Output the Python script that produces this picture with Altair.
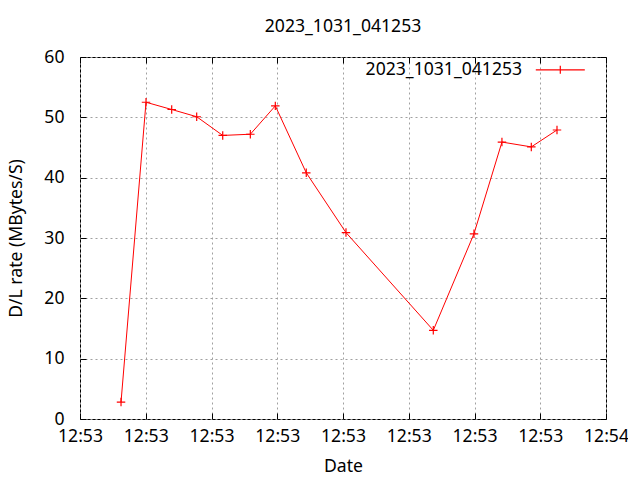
import json
import altair as alt
import pandas as pd

# seconds after 12:53:00
t_sec = [4.68, 7.53, 10.46, 13.31, 16.28, 19.43, 22.28, 25.81, 30.34, 40.3, 44.94, 48.13, 51.48, 54.41]
rate = [2.8, 52.5, 51.3, 50.1, 47.0, 47.2, 51.9, 40.8, 30.9, 14.7, 30.7, 45.9, 45.1, 47.9]
series_name = "2023_1031_041253"
x_tick_values = [0, 7.5, 15, 22.5, 30, 37.5, 45, 52.5, 60]
x_tick_labels = ["12:53", "12:53", "12:53", "12:53", "12:53", "12:53", "12:53", "12:53", "12:54"]
y_tick_values = [0, 10, 20, 30, 40, 50, 60]

df = pd.DataFrame({"t": t_sec, "rate": rate, "series": [series_name] * len(t_sec)})

FONT = "Noto Sans"
FS = 17.6
plus_path = "M-1,0L1,0M0,-1L0,1"
# legend sample drawn to the right of the label (gnuplot style)
legend_path = "M35.8,0L45.6,0M40.7,-0.8L40.7,0.8"

label_expr = json.dumps(x_tick_labels) + "[round(datum.value / 7.5)]"

xscale = alt.Scale(domain=[0, 60], nice=False, zero=False)
yscale = alt.Scale(domain=[0, 60], nice=False)

base = alt.Chart(df)

main = base.mark_line(
    color="#ff0000", strokeWidth=1,
    point=alt.OverlayMarkDef(shape=plus_path, filled=False, size=72, stroke="#ff0000", strokeWidth=1.2),
).encode(
    x=alt.X("t:Q", scale=xscale, title="Date",
            axis=alt.Axis(orient="bottom", values=x_tick_values, labelExpr=label_expr,
                          offset=-6, tickSize=6, tickColor="black", domain=False,
                          grid=True, gridColor="#a0a0a0", gridDash=[2, 3],
                          labelPadding=8, labelFont=FONT, labelFontSize=FS, labelColor="black",
                          labelOverlap=False, labelFlush=False,
                          titleFont=FONT, titleFontSize=FS, titleFontWeight="normal",
                          titleColor="black", titlePadding=13)),
    y=alt.Y("rate:Q", scale=yscale, title="D/L rate (MBytes/S)",
            axis=alt.Axis(orient="left", values=y_tick_values,
                          offset=-6, tickSize=6, tickColor="black", domain=False,
                          grid=True, gridColor="#a0a0a0", gridDash=[2, 3],
                          labelPadding=16, labelFont=FONT, labelFontSize=FS, labelColor="black",
                          titleFont=FONT, titleFontSize=FS, titleFontWeight="normal",
                          titleColor="black", titlePadding=18)),
    color=alt.Color("series:N", scale=alt.Scale(range=["#ff0000"]), title=None,
                    legend=alt.Legend(orient="none", legendX=268, legendY=4, padding=0,
                                      symbolType=legend_path, symbolSize=100,
                                      symbolStrokeWidth=1.2, symbolStrokeColor="#ff0000",
                                      labelAlign="left", labelOffset=0, labelLimit=400,
                                      labelFont=FONT, labelFontSize=FS, labelColor="black")),
)

mirror = base.mark_point(opacity=0).encode(
    x=alt.X("t:Q", scale=xscale,
            axis=alt.Axis(orient="top", values=x_tick_values, offset=-6, tickSize=6,
                          tickColor="black", domain=False, labels=False, grid=False, title=None)),
    y=alt.Y("rate:Q", scale=yscale,
            axis=alt.Axis(orient="right", values=y_tick_values, offset=-6, tickSize=6,
                          tickColor="black", domain=False, labels=False, grid=False, title=None)),
)

chart = alt.layer(main, mirror).resolve_axis(x="independent", y="independent").properties(
    width=526, height=362,
    title=alt.TitleParams(series_name, font=FONT, fontSize=FS, fontWeight="normal",
                          color="black", anchor="middle", offset=12),
    padding={"left": 72, "top": 49, "right": 22, "bottom": 57},
    autosize=alt.AutoSizeParams(type="none"),
).configure_view(stroke="black", strokeWidth=1)

chart.save("out.html", embed_options={"renderer": "svg", "actions": False})
